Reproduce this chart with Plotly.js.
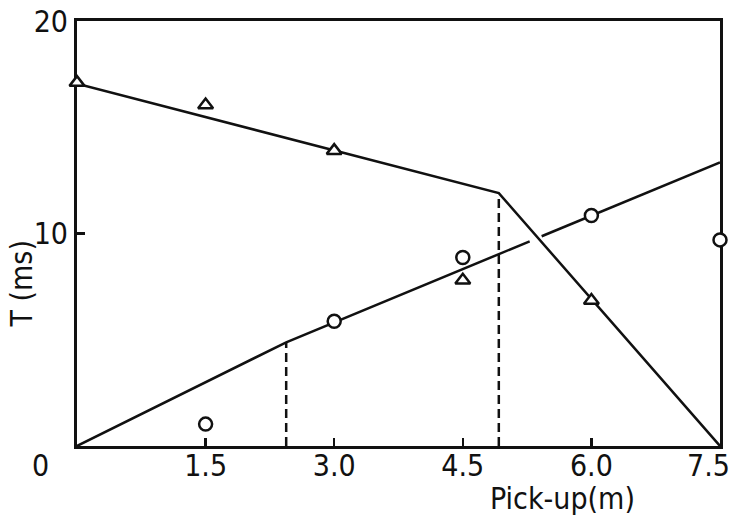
<!DOCTYPE html>
<html>
<head>
<meta charset="utf-8">
<script src="https://cdn.plot.ly/plotly-3.0.1.min.js"></script>
<style>html,body{margin:0;padding:0;background:#fff;}#chart{width:733px;height:516px;}</style>
</head>
<body>
<div id="chart"></div>
<script>
// Data
const triX = [0, 1.5, 3.0, 4.5, 6.0];
const triY = [17.1, 16.05, 13.9, 7.8, 6.85];
const circX = [1.5, 3.0, 4.5, 6.0, 7.5];
const circY = [1.03, 5.87, 8.87, 10.85, 9.7];

// Fitted lines (piecewise)
const lineAX = [0, 4.92, 7.5];
const lineAY = [17.05, 11.9, 0];
const lineB1X = [0, 2.44, 5.28];
const lineB1Y = [0, 4.88, 9.63];
const lineB2X = [5.42, 7.5];
const lineB2Y = [9.87, 13.35];
const dash1X = [2.44, 2.44];
const dash1Y = [0, 4.88];
const dash2X = [4.92, 4.92];
const dash2Y = [0, 11.9];

const xTickVals = [1.5, 3.0, 4.5, 6.0, 7.5];
const xTickText = ['1.5', '3.0', '4.5', '6.0', '7.5'];
const yTickVals = [10, 20];
const yTickText = ['10', '20'];

const FONT = '"DejaVu Sans Condensed", sans-serif';
const lineStyle = {color: '#111', width: 2.5};

const traces = [
  {x: lineAX, y: lineAY, mode: 'lines', line: lineStyle, cliponaxis: false},
  {x: lineB1X, y: lineB1Y, mode: 'lines', line: lineStyle, cliponaxis: false},
  {x: lineB2X, y: lineB2Y, mode: 'lines', line: lineStyle, cliponaxis: false},
  {x: dash1X, y: dash1Y, mode: 'lines', line: {color: '#111', width: 2.5, dash: '9px,5px'}},
  {x: dash2X, y: dash2Y, mode: 'lines', line: {color: '#111', width: 2.5, dash: '9px,5px'}},
  {x: triX, y: triY, mode: 'markers', cliponaxis: false,
   marker: {symbol: 'triangle-up', size: 13, color: '#fff', line: {color: '#111', width: 2.5}}},
  {x: circX, y: circY, mode: 'markers', cliponaxis: false,
   marker: {symbol: 'circle', size: 13, color: '#fff', line: {color: '#111', width: 2.5}}}
];

// the last x label sits flush with the right edge, as in the original
const lastIdx = xTickText.length - 1;
const shownXText = xTickText.map((t, i) => i === lastIdx ? '' : t);

const layout = {
  width: 733, height: 516,
  margin: {l: 77, r: 13, t: 21, b: 70, pad: 0},
  paper_bgcolor: '#fff', plot_bgcolor: '#fff',
  showlegend: false,
  font: {family: FONT, size: 30, color: '#111'},
  xaxis: {
    range: [0, 7.5], showgrid: false, zeroline: false,
    showline: true, linewidth: 3, linecolor: '#111', mirror: true,
    ticks: 'inside', ticklen: 8, tickwidth: 2.5, tickcolor: '#111',
    tickvals: xTickVals, ticktext: shownXText,
    tickfont: {family: FONT, size: 30, color: '#111'},
    ticklabelstandoff: -9,
    layer: 'below traces'
  },
  yaxis: {
    range: [0, 20], showgrid: false, zeroline: false,
    showline: true, linewidth: 3, linecolor: '#111', mirror: true,
    ticks: 'inside', ticklen: 8, tickwidth: 2.5, tickcolor: '#111',
    tickvals: yTickVals, ticktext: yTickText,
    tickfont: {family: FONT, size: 30, color: '#111'},
    ticklabelstandoff: 0,
    ticklabeloverflow: 'allow',
    layer: 'below traces'
  },
  annotations: [
    {text: xTickText[lastIdx], xref: 'x', yref: 'paper', x: xTickVals[lastIdx], y: 0, xshift: 12, yshift: -19,
     showarrow: false, xanchor: 'right', yanchor: 'middle', font: {family: FONT, size: 30, color: '#111'}},
    {text: '0', xref: 'paper', yref: 'paper', x: 0, y: 0, xshift: -37, yshift: -19,
     showarrow: false, xanchor: 'center', yanchor: 'middle', font: {family: FONT, size: 30, color: '#111'}},
    {text: 'T (ms)', xref: 'paper', yref: 'y', x: 0, y: 7.6, xshift: -56, textangle: -90,
     showarrow: false, xanchor: 'center', yanchor: 'middle', font: {family: FONT, size: 30, color: '#111'}},
    {text: 'Pick-up(m)', xref: 'x', yref: 'paper', x: 5.66, y: 0, yshift: -52,
     showarrow: false, xanchor: 'center', yanchor: 'middle', font: {family: FONT, size: 30, color: '#111'}}
  ]
};

Plotly.newPlot('chart', traces, layout, {displayModeBar: false, staticPlot: true});
</script>
</body>
</html>
